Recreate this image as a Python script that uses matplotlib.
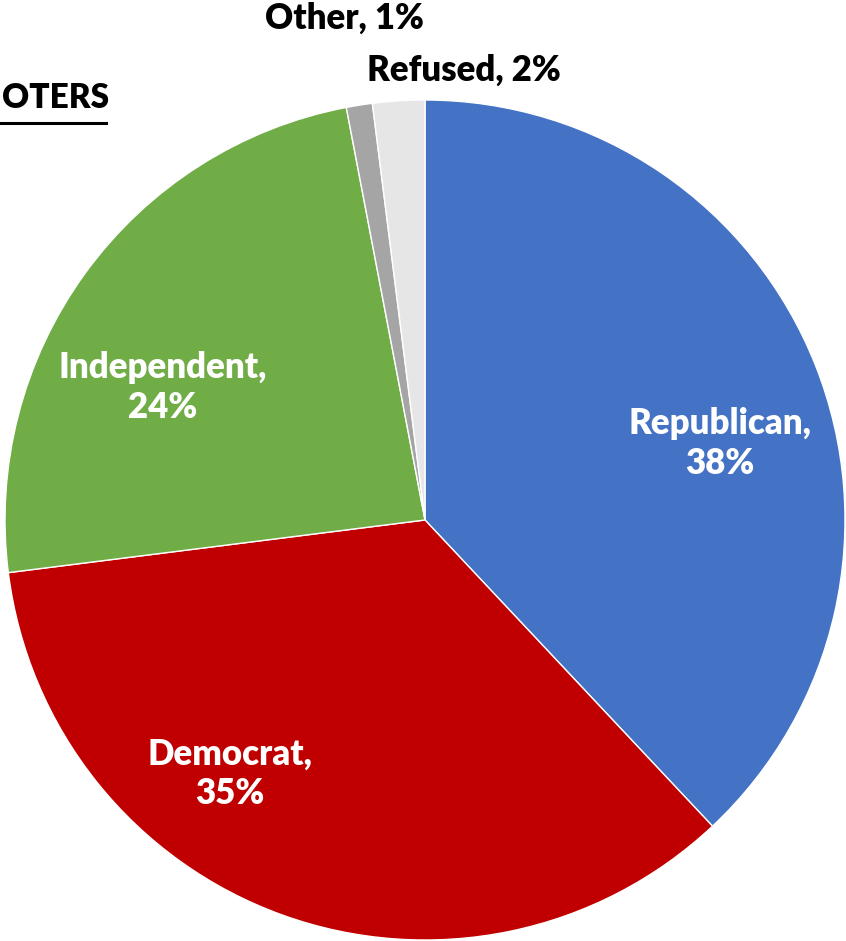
import matplotlib
matplotlib.use("Agg")
import matplotlib.pyplot as plt
from matplotlib.lines import Line2D

categories = ["Republican", "Democrat", "Independent", "Other", "Refused"]
values = [38, 35, 24, 1, 2]
colors = ["#4472C4", "#C00000", "#70AD47", "#A5A5A5", "#E7E6E6"]
label_text = ["Republican,\n38%", "Democrat,\n35%", "Independent,\n24%", "Other, 1%", "Refused, 2%"]
label_pos = [(0.702, 0.183), (-0.464, -0.605), (-0.624, 0.315), (-0.193, 1.195), (0.092, 1.071)]
label_color = ["white", "white", "white", "black", "black"]

W, H = 846, 941
fig = plt.figure(figsize=(W / 100, H / 100), dpi=100)
cx, cy, R = 425, 520, 420
ax = fig.add_axes([(cx - R) / W, (H - cy - R) / H, 2 * R / W, 2 * R / H])
ax.pie(values, colors=colors, startangle=90, counterclock=False, radius=1,
       wedgeprops=dict(edgecolor="white", linewidth=1))
ax.set_xlim(-1, 1)
ax.set_ylim(-1, 1)
ax.set_aspect("equal")
ax.axis("off")

font = ["Lato", "DejaVu Sans"]
for txt, (x, y), c in zip(label_text, label_pos, label_color):
    ax.text(x, y, txt, ha="center", va="center", color=c, fontsize=25,
            fontweight="heavy", family=font, linespacing=1.25, clip_on=False)

fig.text(2 / W, 1 - 98 / H, "OTERS", ha="left", va="center", fontsize=24,
         fontweight="heavy", family=font)
fig.add_artist(Line2D([0, 106 / W], [1 - 123 / H, 1 - 123 / H], color="black",
                      linewidth=2.2, transform=fig.transFigure))

fig.savefig("out.png", dpi=100)
